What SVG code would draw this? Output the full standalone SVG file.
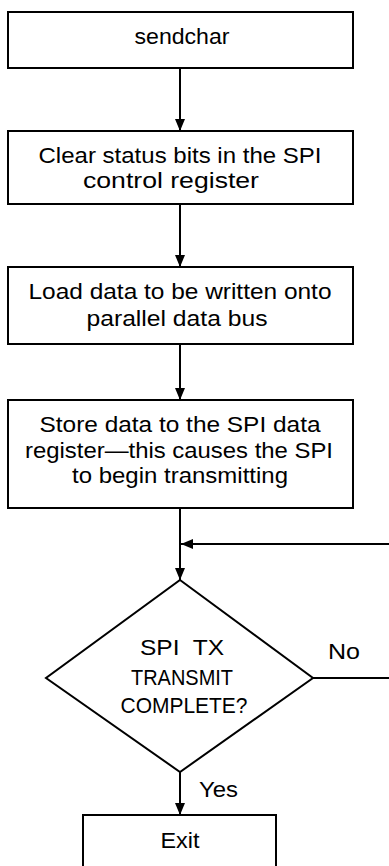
<svg xmlns="http://www.w3.org/2000/svg" width="389" height="866" viewBox="0 0 389 866">
<style>
.box{fill:#fff;stroke:#000;stroke-width:2}
.ln{fill:none;stroke:#000;stroke-width:2}
text{font-family:"Liberation Sans",Arial,Helvetica,sans-serif;font-size:22px;fill:#000;text-anchor:middle}
.l{text-anchor:start}
</style>
<defs>
<marker id="ah" markerUnits="userSpaceOnUse" markerWidth="12" markerHeight="12" viewBox="0 0 12 12" refX="12" refY="6" orient="auto">
<path d="M0,1 L12,6 L0,11 Z" fill="#000"/>
</marker>
</defs>
<g id="connectors">
<line class="ln" x1="180" y1="68" x2="180" y2="131" marker-end="url(#ah)"/>
<line class="ln" x1="180" y1="204" x2="180" y2="267" marker-end="url(#ah)"/>
<line class="ln" x1="180" y1="344" x2="180" y2="400" marker-end="url(#ah)"/>
<line class="ln" x1="180" y1="508" x2="180" y2="580" marker-end="url(#ah)"/>
<line class="ln" x1="389" y1="544" x2="181" y2="544" marker-end="url(#ah)"/>
<line class="ln" x1="313" y1="678" x2="389" y2="678"/>
<line class="ln" x1="180" y1="772" x2="180" y2="815" marker-end="url(#ah)"/>
<text class="l" x="328" y="659" textLength="32" lengthAdjust="spacingAndGlyphs">No</text>
<text class="l" x="199" y="797" textLength="39" lengthAdjust="spacingAndGlyphs">Yes</text>
</g>
<g id="n1">
<rect class="box" x="8" y="12" width="345" height="56"/>
<text x="182" y="44" textLength="95" lengthAdjust="spacingAndGlyphs">sendchar</text>
</g>
<g id="n2">
<rect class="box" x="8" y="131" width="345" height="73"/>
<text x="180" y="163" textLength="283" lengthAdjust="spacingAndGlyphs">Clear status bits in the SPI</text>
<text x="171" y="188" textLength="176" lengthAdjust="spacingAndGlyphs">control register</text>
</g>
<g id="n3">
<rect class="box" x="8" y="267" width="345" height="77"/>
<text x="180" y="299" textLength="303" lengthAdjust="spacingAndGlyphs">Load data to be written onto</text>
<text x="177" y="326" textLength="181" lengthAdjust="spacingAndGlyphs">parallel data bus</text>
</g>
<g id="n4">
<rect class="box" x="8" y="400" width="345" height="108"/>
<text x="180" y="432" textLength="281" lengthAdjust="spacingAndGlyphs">Store data to the SPI data</text>
<text x="179" y="458" textLength="308" lengthAdjust="spacingAndGlyphs">register—this causes the SPI</text>
<text x="180" y="483" textLength="216" lengthAdjust="spacingAndGlyphs">to begin transmitting</text>
</g>
<g id="n5">
<polygon class="box" points="180,580 313,678 180,772 46,678"/>
<text x="182" y="655" textLength="84" lengthAdjust="spacingAndGlyphs" xml:space="preserve">SPI  TX</text>
<text x="182" y="685" textLength="102" lengthAdjust="spacingAndGlyphs">TRANSMIT</text>
<text x="184" y="713" textLength="127" lengthAdjust="spacingAndGlyphs">COMPLETE?</text>
</g>
<g id="n6">
<path class="box" d="M83,870 L83,815 L276,815 L276,870"/>
<text x="180" y="848" textLength="39" lengthAdjust="spacingAndGlyphs">Exit</text>
</g>
</svg>
